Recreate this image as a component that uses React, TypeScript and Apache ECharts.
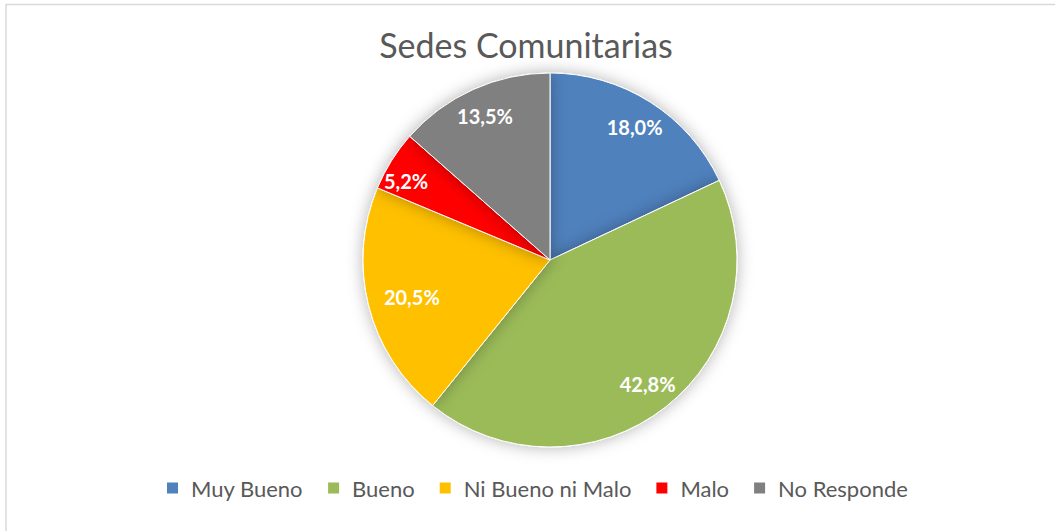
import React, { useEffect, useRef } from "react";
import * as echarts from "echarts";

const categories = ["Muy Bueno", "Bueno", "Ni Bueno ni Malo", "Malo", "No Responde"];
const values = [18.0, 42.8, 20.5, 5.2, 13.5];
const colors = ["#4F81BD", "#9BBB59", "#FFC000", "#FF0000", "#808080"];
const titleText = "Sedes Comunitarias";

// label nudges (styling only) to mimic the reference's fitted label placement
const labelOffsets: Array<[number, number]> = [[0, 0], [0, 0], [15, -2], [-10, 5], [0, 0]];

const FONT = "Lato, 'Open Sans', sans-serif";

export default function App() {
  const ref = useRef<HTMLDivElement>(null);
  useEffect(() => {
    if (!ref.current) return;
    const chart = echarts.init(ref.current, undefined, { renderer: "svg" });
    const data = categories.map((name, i) => ({
      name,
      value: values[i],
      itemStyle: { color: colors[i] },
    }));
    chart.setOption({
      animation: false,
      backgroundColor: "#ffffff",
      title: {
        text: titleText,
        left: 521,
        textAlign: "center",
        top: 22,
        textStyle: { fontFamily: FONT, fontSize: 34, fontWeight: "normal", color: "#595959" },
      },
      legend: {
        bottom: 27,
        left: 160,
        itemWidth: 13,
        itemHeight: 13,
        itemGap: 23,
        icon: "rect",
        textStyle: { fontFamily: FONT, fontSize: 22, color: "#595959", padding: [0, 0, 0, 7] },
        data: categories,
      },
      graphic: [
        {
          type: "rect",
          shape: { x: 6, y: 4.5, width: 1060, height: 540 },
          style: { fill: "none", stroke: "#d9d9d9", lineWidth: 1.5 },
          silent: true,
        },
      ],
      series: [
        {
          type: "pie",
          center: [550, 260],
          radius: [0, 187],
          startAngle: 90,
          clockwise: true,
          label: { show: false },
          labelLine: { show: false },
          itemStyle: {
            borderColor: "#ffffff",
            borderWidth: 1,
            shadowBlur: 16,
            shadowColor: "rgba(0,0,0,0.3)",
          },
          emphasis: { disabled: true },
          data,
        },
        {
          type: "pie",
          center: [550, 260],
          radius: [124, 186],
          startAngle: 90,
          clockwise: true,
          silent: true,
          legendHoverLink: false,
          itemStyle: { color: "rgba(0,0,0,0)" },
          label: {
            show: true,
            position: "inside",
            formatter: (p: any) => values[p.dataIndex].toFixed(1).replace(".", ",") + "%",
            color: "#ffffff",
            fontFamily: FONT,
            fontWeight: "bold",
            fontSize: 20,
          },
          labelLine: { show: false },
          emphasis: { disabled: true },
          data: categories.map((name, i) => ({
            name: name + " ",
            value: values[i],
            label: { offset: labelOffsets[i] },
          })),
        },
      ],
    });
    return () => chart.dispose();
  }, []);
  return (
    <div
      ref={ref}
      style={{ position: "fixed", left: 0, top: 0, width: 1055, height: 531 }}
    />
  );
}
